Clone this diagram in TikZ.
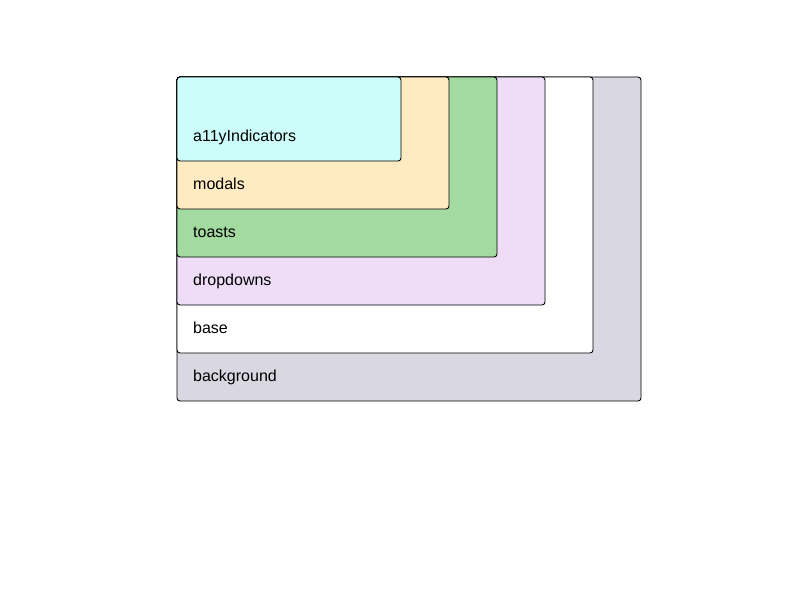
\documentclass[tikz,border=0pt]{standalone}
\usepackage{fontspec}
\setmainfont{Liberation Sans}
\definecolor{cA}{HTML}{CCFDFA}
\definecolor{cM}{HTML}{FFEBC2}
\definecolor{cT}{HTML}{A2DAA0}
\definecolor{cD}{HTML}{EFDDF8}
\definecolor{cB}{HTML}{FFFFFF}
\definecolor{cG}{HTML}{D9D7E1}
\begin{document}
\begin{tikzpicture}[x=1pt,y=-1pt,
  layer/.style={draw=black,line width=0.9pt,rounded corners=3pt},
  lbl/.style={anchor=base west,inner sep=0pt,font=\fontsize{16}{19}\selectfont}]
\useasboundingbox (0,0) rectangle (800,600);
\fill[white] (0,0) rectangle (800,600);
\draw[layer,fill=cG] (177,77) rectangle (641,401);
\draw[layer,fill=cB] (177,77) rectangle (593,353);
\draw[layer,fill=cD] (177,77) rectangle (545,305);
\draw[layer,fill=cT] (177,77) rectangle (497,257);
\draw[layer,fill=cM] (177,77) rectangle (449,209);
\draw[layer,fill=cA] (177,77) rectangle (401,161);
\node[lbl] (tbg) at (193,381.5) {background};
\node[lbl] (tbase) at (193,333.5) {base};
\node[lbl] (tdd) at (193,285.5) {dropdowns};
\node[lbl] (tto) at (193,237.5) {toasts};
\node[lbl] (tmo) at (193,189.5) {modals};
\node[lbl] (ta) at (193,141.5) {a11yIndicators};
\end{tikzpicture}
\end{document}
